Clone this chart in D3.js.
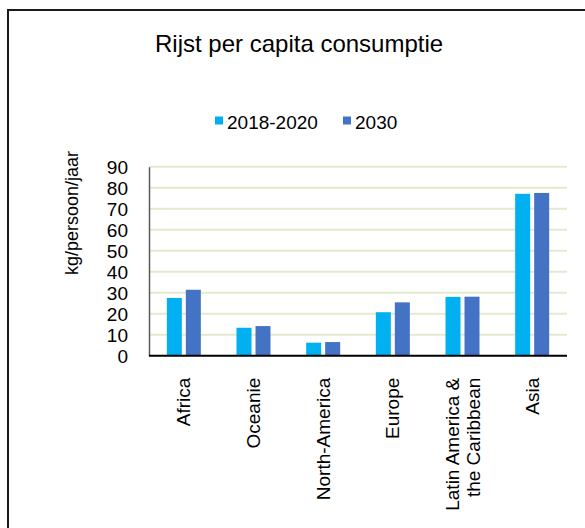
<!DOCTYPE html>
<html><head><meta charset="utf-8">
<script src="https://cdn.jsdelivr.net/npm/d3@7"></script>
<style>body{margin:0;background:#fff}svg{display:block}text{font-family:"Liberation Sans",Arial,sans-serif;fill:#000}</style>
</head><body>
<script>
const categories = ["Africa","Oceanie","North-America","Europe","Latin America &\nthe Caribbean","Asia"];
const seriesNames = ["2018-2020","2030"];
const values2018 = [27.5,13.3,6.2,20.7,28.0,77.1];
const values2030 = [31.4,14.1,6.5,25.4,28.1,77.5];
const yTicks = [0,10,20,30,40,50,60,70,80,90];
const colors = ["#00b0f0","#4472c4"];

(function(){
const W=585,H=528;
const svg=d3.select("body").append("svg").attr("width",W).attr("height",H);
svg.append("rect").attr("x",8).attr("y",10).attr("width",620).attr("height",620)
  .attr("fill","#fff").attr("stroke","#1a1a1a").attr("stroke-width",2);

const pL=149,pR=567,pT=166.7,pB=355.7;
const x=d3.scaleBand().domain(categories).range([pL,pR]);
const y=d3.scaleLinear().domain([0,90]).range([pB,pT]);

// gridlines
svg.append("g").selectAll("line").data(yTicks.filter(d=>d>0)).join("line")
  .attr("x1",pL).attr("x2",pR).attr("y1",d=>y(d)).attr("y2",d=>y(d))
  .attr("stroke","#e2eacd").attr("stroke-width",2);

// bars
const data=categories.map((c,i)=>({c,v:[values2018[i],values2030[i]]}));
const bw=15,gap=4;
const g=svg.append("g");
data.forEach(d=>{
  const cx=x(d.c)+x.bandwidth()/2;
  d.v.forEach((v,j)=>{
    const x0 = j===0 ? cx-gap/2-bw : cx+gap/2;
    g.append("rect").attr("x",x0).attr("width",bw)
      .attr("y",y(v)).attr("height",pB-y(v)).attr("fill",colors[j]);
  });
});

// y axis
const yAxis=d3.axisLeft(y).tickValues(yTicks).tickSize(0).tickPadding(21);
const ya=svg.append("g").attr("transform",`translate(${pL},0)`).call(yAxis);
ya.select(".domain").attr("stroke","#595959").attr("stroke-width",1.5);
ya.selectAll("text").attr("font-size",19).attr("fill","#000").attr("dy","0.35em")
  .style("font-family","Liberation Sans, Arial, sans-serif");

// baseline
svg.append("line").attr("x1",pL).attr("x2",pR).attr("y1",pB).attr("y2",pB)
  .attr("stroke","#000").attr("stroke-width",2);

// x labels
categories.forEach(c=>{
  const lines=c.split("\n");
  const cx=x(c)+x.bandwidth()/2;
  const t=svg.append("text").attr("transform",`translate(${cx},${pB+22}) rotate(-90)`)
    .attr("text-anchor","end").attr("font-size",19);
  const n=lines.length;
  lines.forEach((l,i)=>{
    t.append("tspan").attr("x",0).attr("y",0).attr("dy",((i-(n-1)/2)*1.12+0.35)+"em").text(l);
  });
});

// y title
svg.append("text").attr("transform","translate(72,213) rotate(-90)").attr("text-anchor","middle")
  .attr("dy","0.35em").attr("font-size",18).text("kg/persoon/jaar");

// title
svg.append("text").attr("x",155).attr("y",52).attr("font-size",24)
  .text("Rijst per capita consumptie");

// legend
const leg=[{n:seriesNames[0],x:215,tx:227},{n:seriesNames[1],x:343,tx:355}];
leg.forEach((l,i)=>{
  svg.append("rect").attr("x",l.x).attr("y",116.5).attr("width",8).attr("height",8).attr("fill",colors[i]);
  svg.append("text").attr("x",l.tx).attr("y",129).attr("font-size",19).text(l.n);
});
})();
</script>
</body></html>
